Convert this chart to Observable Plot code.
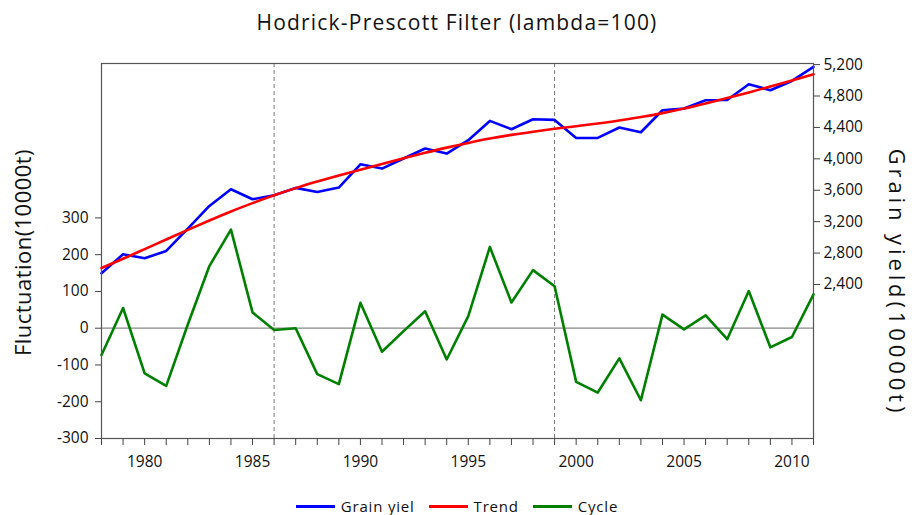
<!DOCTYPE html>
<html>
<head>
<meta charset="utf-8">
<script src="https://cdn.jsdelivr.net/npm/d3@7"></script>
<script src="https://cdn.jsdelivr.net/npm/@observablehq/plot@0.6"></script>
<style>
  html, body { margin: 0; padding: 0; background: #fff; }
  body { width: 914px; height: 515px; overflow: hidden; font-family: "Open Sans", "Noto Sans", sans-serif; }
  #title { height: 45px; line-height: 45px; text-align: center; font-size: 21px; color: #111; letter-spacing: 1.2px; }
  #legend { height: 30px; display: flex; justify-content: center; align-items: center; gap: 14px; font-size: 15px; color: #111; letter-spacing: 0.8px; padding-top: 6px; }
  .item { display: flex; align-items: center; gap: 6px; }
  .sw { width: 39px; height: 3px; }
</style>
</head>
<body>
<div id="title">Hodrick-Prescott Filter (lambda=100)</div>
<div id="chart"></div>
<div id="legend">
  <span class="item"><span class="sw" style="background:#0000ff"></span>Grain yiel</span>
  <span class="item"><span class="sw" style="background:#ff0000"></span>Trend</span>
  <span class="item"><span class="sw" style="background:#008000"></span>Cycle</span>
</div>
<script>
const years = [1978,1979,1980,1981,1982,1983,1984,1985,1986,1987,1988,1989,1990,1991,1992,1993,1994,
  1995,1996,1997,1998,1999,2000,2001,2002,2003,2004,2005,2006,2007,2008,2009,2010,2011];
const grain = [2543,2785,2734,2827,3112,3400,3613,3485,3536,3630,3578,3634,3931,3876,4004,4131,4067,
  4237,4483,4377,4504,4496,4266,4266,4399,4339,4619,4641,4746,4750,4950,4874,4992,5171];
const trend = [2610,2728,2850,2973,3095,3215,3330,3436,3536,3627,3710,3788,3862,3935,4007,4077,4143,
  4203,4258,4305,4346,4383,4416,4450,4488,4532,4582,4640,4705,4774,4846,4921,4998,5076];
const cycle = [-73,55,-123,-157,10,169,268,43,-5,0,-125,-152,69,-64,-8,46,-85,
  33,221,70,158,114,-146,-175,-82,-196,37,-3,35,-30,101,-52,-24,92];
const leftTicks = [-300,-200,-100,0,100,200,300];
const rightTicks = [2400,2800,3200,3600,4000,4400,4800,5200];
const breakYears = [1986, 1999];
const leftLabel = "Fluctuation(10000t)";
const rightLabel = "Grain yield(10000t)";

// right axis (grain yield) mapped onto the left (fluctuation) scale
const toLeft = d3.scaleLinear([439, 5214], [-300, 720]);

const rows = years.map((yr, i) => ({year: yr, grain: toLeft(grain[i]), trend: toLeft(trend[i]), cycle: cycle[i]}));

const chart = Plot.plot({
  width: 914,
  height: 440,
  marginTop: 18,
  marginBottom: 47,
  marginLeft: 101,
  marginRight: 101,
  style: {fontFamily: "'Open Sans', 'Noto Sans', sans-serif", fontSize: "15px", color: "#111"},
  x: {domain: [1978, 2011]},
  y: {domain: [-300, 720]},
  marks: [
    Plot.ruleY([0], {stroke: "#888", strokeWidth: 1.2}),
    Plot.ruleX(breakYears, {stroke: "#777", strokeDasharray: "4,3", strokeWidth: 1}),
    Plot.line(rows, {x: "year", y: "cycle", stroke: "#008000", strokeWidth: 2.6}),
    Plot.line(rows, {x: "year", y: "grain", stroke: "#0000ff", strokeWidth: 2.6}),
    Plot.line(rows, {x: "year", y: "trend", stroke: "#ff0000", strokeWidth: 2.6, curve: "monotone-x"}),
    Plot.frame({stroke: "#555", strokeWidth: 1.2}),
    Plot.axisX({ticks: years, tickSize: 7, tickPadding: 10, tickFormat: d => d % 5 === 0 ? String(d) : "", label: null, stroke: "#444"}),
    Plot.axisY({ticks: leftTicks, tickSize: 6, tickPadding: 7, tickFormat: d => String(d), label: null, stroke: "#444"}),
    Plot.axisY({anchor: "right", ticks: rightTicks.map(v => toLeft(v)), tickSize: 6, tickPadding: 4,
      tickFormat: d => d3.format(",")(Math.round(toLeft.invert(d) / 100) * 100), label: null, stroke: "#444"}),
    Plot.text([leftLabel], {frameAnchor: "left", textAnchor: "middle", dx: -78, dy: 1.5, rotate: -90, fontSize: 22, fill: "#111", text: d => d}),
    Plot.text([rightLabel], {frameAnchor: "right", textAnchor: "middle", dx: 83, dy: 31.5, rotate: 90, fontSize: 22, fill: "#111", text: d => d})
  ]
});
chart.querySelectorAll("text").forEach(t => {
  if (t.textContent === leftLabel) t.setAttribute("letter-spacing", "0.45");
  if (t.textContent === rightLabel) t.setAttribute("letter-spacing", "3.9");
});
chart.querySelectorAll('g[aria-label$="tick label"]').forEach(g => {
  g.style.fontSize = "15.5px";
  g.querySelectorAll("text").forEach(t => t.style.fontSize = "15.5px");
});
document.getElementById("chart").appendChild(chart);
</script>
</body>
</html>
